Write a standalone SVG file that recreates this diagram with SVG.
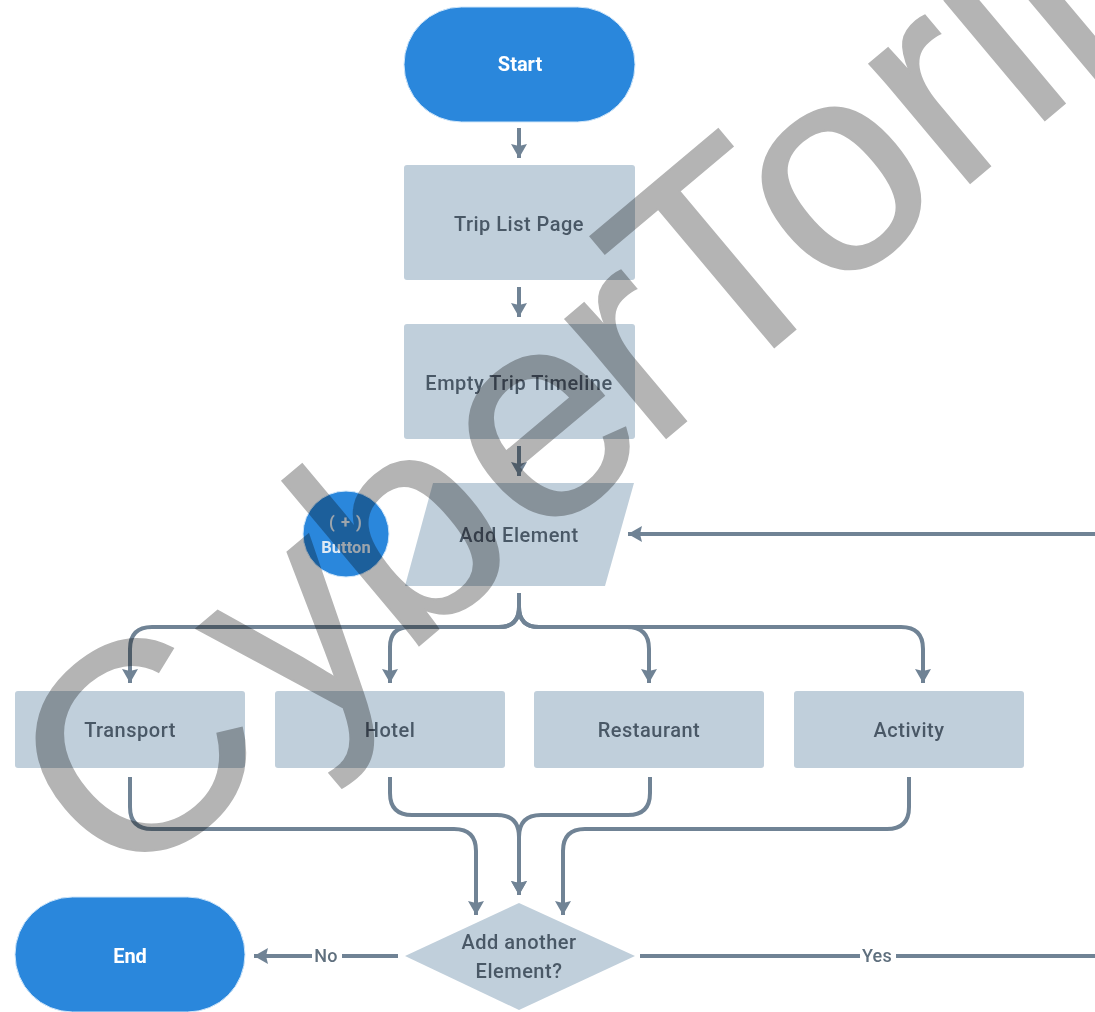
<svg xmlns="http://www.w3.org/2000/svg" width="1095" height="1012" viewBox="0 0 1095 1012">
<style>
text{font-family:"Roboto","Liberation Sans",sans-serif;text-anchor:middle}
.box{fill:#c0cfdb}
.blue{fill:#2b87dc;stroke:#cfe6fa;stroke-width:1}
.t{font-size:20px;fill:#4a5866;letter-spacing:.5px;font-weight:500}
.w{font-size:20px;fill:#fff;font-weight:700}
.b{font-size:16.5px;fill:#dfeaf4;font-weight:700}
.c{fill:none;stroke:#708395;stroke-width:4;stroke-linecap:butt;stroke-linejoin:round}
.a{marker-end:url(#arrow)}
.l{font-size:18px;fill:#5f6f7e;letter-spacing:.3px;font-weight:500}
.wm{font-family:"Liberation Sans",Arial,sans-serif;font-size:295px;fill:#b4b4b4;stroke:#b4b4b4;stroke-width:2;text-anchor:start;mix-blend-mode:multiply}
</style>
<defs>
<marker id="arrow" markerUnits="userSpaceOnUse" markerWidth="18" markerHeight="18" refX="14" refY="9" orient="auto">
<path d="M0 1 L14 9 L0 17 L2 9 Z" fill="#708395"/>
</marker>
<filter id="soft" x="0" y="0" width="100%" height="100%"><feGaussianBlur stdDeviation="0.45"/></filter>
</defs>
<g filter="url(#soft)">
<rect width="1095" height="1012" fill="#fff"/>
<g id="connectors">
<path class="c a" d="M519 128V158"/>
<path class="c a" d="M519 287V317"/>
<path class="c a" d="M519 446V476"/>
<path class="c a" d="M1095 534H628"/>
<path class="c a" d="M519 593V607Q519 627 499 627H152Q130 627 130 649V683"/>
<path class="c a" d="M519 593V607Q519 627 499 627H410Q390 627 390 647V683"/>
<path class="c a" d="M519 593V607Q519 627 539 627H627Q649 627 649 649V683"/>
<path class="c a" d="M519 593V607Q519 627 539 627H901Q923 627 923 649V683"/>
<path class="c a" d="M130 777V807Q130 829 152 829H454Q476 829 476 851V915"/>
<path class="c a" d="M390 777V793Q390 815 412 815H497Q519 815 519 837V895"/>
<path class="c a" d="M650 777V793Q650 815 628 815H541Q519 815 519 837V895"/>
<path class="c a" d="M909 777V807Q909 829 887 829H585Q563 829 563 851V915"/>
<path class="c" d="M398 956H342"/>
<path class="c a" d="M312 956H254"/>
<path class="c" d="M640 956H860"/>
<path class="c" d="M896 956H1095"/>
<text class="l" x="326" y="962">No</text>
<text class="l" x="877" y="962">Yes</text>
</g>
<g id="start"><rect class="blue" x="404" y="7" width="231" height="115" rx="57.5"/><text class="w" x="520" y="71">Start</text></g>
<g id="trip-list"><rect class="box" x="404" y="165" width="231" height="115" rx="3"/><text class="t" x="519" y="231">Trip List Page</text></g>
<g id="empty-timeline"><rect class="box" x="404" y="324" width="231" height="115" rx="3"/><text class="t" x="519" y="390">Empty Trip Timeline</text></g>
<g id="button"><circle cx="346" cy="534" r="43" fill="#2b87dc" stroke="#cfe6fa"/><text class="b" x="346" y="528" letter-spacing="1">( + )</text><text class="b" x="346" y="553">Button</text></g>
<g id="add-element"><path class="box" d="M433 483H634L605 586H405Z"/><text class="t" x="519" y="542">Add Element</text></g>
<g id="transport"><rect class="box" x="15" y="691" width="230" height="77" rx="3"/><text class="t" x="130" y="737">Transport</text></g>
<g id="hotel"><rect class="box" x="275" y="691" width="230" height="77" rx="3"/><text class="t" x="390" y="737">Hotel</text></g>
<g id="restaurant"><rect class="box" x="534" y="691" width="230" height="77" rx="3"/><text class="t" x="649" y="737">Restaurant</text></g>
<g id="activity"><rect class="box" x="794" y="691" width="230" height="77" rx="3"/><text class="t" x="909" y="737">Activity</text></g>
<g id="decision"><path class="box" d="M519 903L635 956L519 1010L405 956Z"/><text class="t" x="519" y="949">Add another</text><text class="t" x="519" y="978">Element?</text></g>
<g id="end"><rect class="blue" x="15" y="897" width="230" height="115" rx="57.5"/><text class="w" x="130" y="963">End</text></g>
<text class="wm" transform="translate(113 902) rotate(-40)" dx="9 17 -6 6 -13 -13">CyberTorii</text>
</g>
</svg>
